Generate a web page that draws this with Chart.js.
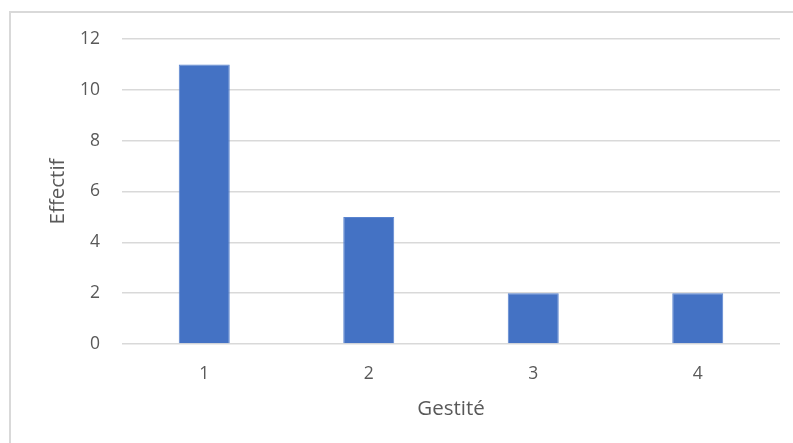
<!DOCTYPE html>
<html>
<head>
<meta charset="utf-8">
<script src="https://cdn.jsdelivr.net/npm/chart.js@4"></script>
<style>
  html, body { margin: 0; padding: 0; background: #fff; overflow: hidden; }
  #wrap { position: relative; width: 793px; height: 443px; }
  #frame { position: absolute; left: 9px; top: 11px; width: 800px; height: 450px;
           border-left: 2px solid #d9d9d9; border-top: 2px solid #d9d9d9; }
  canvas { position: absolute; left: 0; top: 0; }
</style>
</head>
<body>
<div id="wrap">
  <div id="frame"></div>
  <canvas id="gestiteChart" width="793" height="443"></canvas>
</div>
<script>
const CATEGORIES = ['1', '2', '3', '4'];
const EFFECTIF = [11, 5, 2, 2];
const Y_MIN = 0, Y_MAX = 12, Y_STEP = 2;

const TXT = '#595959';
const FONT = '"Open Sans", sans-serif';

function gestiteChart() {
    var ctx = document.getElementById('gestiteChart');

    var data = {
        labels: CATEGORIES,
        datasets: [{
            label: 'Effectif',
            data: EFFECTIF,
            backgroundColor: '#4472C4',
            borderColor: '#5a84cf',
            borderWidth: 1,
            barPercentage: 0.31,
            categoryPercentage: 1
        }]
    };

    var options = {
        responsive: false,
        animation: false,
        layout: { padding: { left: 10, right: 13, top: 39, bottom: 0 } },
        plugins: {
            legend: { display: false },
            tooltip: { enabled: false }
        },
        scales: {
            x: {
                grid: { display: false, drawTicks: false },
                border: { display: false },
                ticks: { color: TXT, font: { family: FONT, size: 17.5 }, padding: 20 },
                title: { display: true, text: 'Gestité', color: TXT,
                         font: { family: FONT, size: 20.5 }, padding: { top: 14, bottom: 22 } },
                afterFit: function(scale) { scale.height = 99; }
            },
            y: {
                min: Y_MIN,
                max: Y_MAX,
                grid: { color: '#d9d9d9', lineWidth: 1.5, drawTicks: false },
                border: { display: false },
                ticks: { stepSize: Y_STEP, color: TXT, font: { family: FONT, size: 17.5 }, padding: 22 },
                title: { display: true, text: 'Effectif', color: TXT,
                         font: { family: FONT, size: 20.5 }, padding: { top: 36, bottom: 0 } },
                afterFit: function(scale) { scale.width = 112; }
            }
        }
    };

    new Chart(ctx, { type: 'bar', data: data, options: options });
}

gestiteChart();
</script>
</body>
</html>
